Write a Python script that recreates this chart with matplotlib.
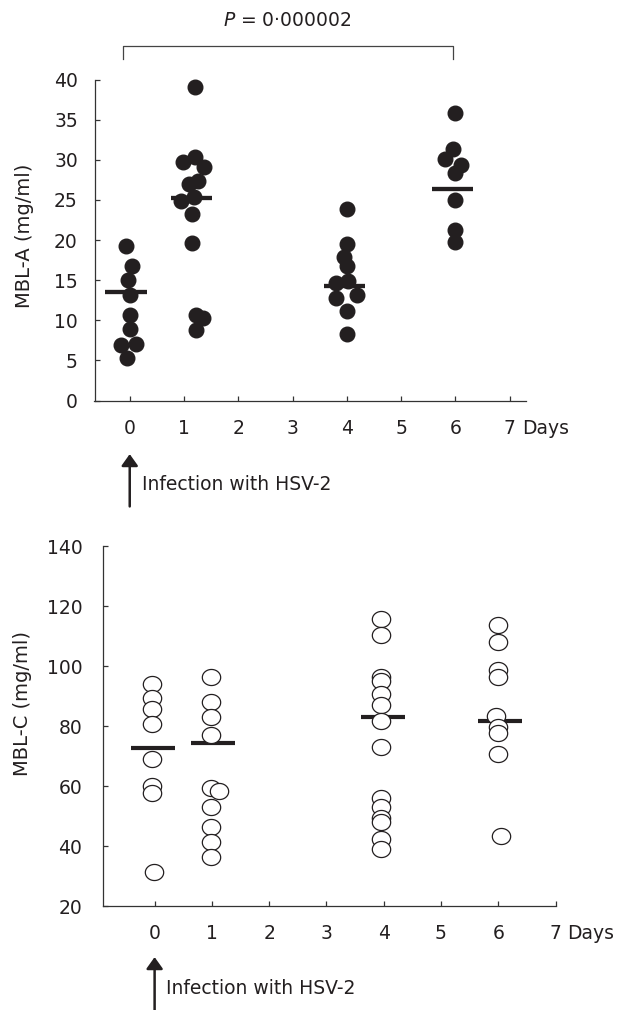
import numpy as np
import matplotlib
matplotlib.use("Agg")
import matplotlib.pyplot as plt
from matplotlib.path import Path

plt.rcParams['font.family'] = ['DejaVu Sans']
plt.rcParams['mathtext.fontset'] = 'dejavusans'

# ---------------- data ----------------
day_ticks = [0, 1, 2, 3, 4, 5, 6, 7]

# MBL-A (top panel): day position (with jitter) and value
mbla_day = [-0.07, 0.05, -0.04, 0.0, 0.0, 0.0, -0.17, 0.12, -0.05,
            1.20, 0.99, 1.20, 1.36, 1.10, 1.25, 0.94, 1.19, 1.15, 1.15, 1.22, 1.35, 1.22,
            4.0, 4.0, 3.95, 4.0, 3.80, 4.02, 4.18, 3.80, 4.0, 4.0,
            6.0, 5.96, 5.81, 6.11, 6.0, 6.0, 6.0, 6.0]
mbla_val = [19.2, 16.7, 15.0, 13.2, 10.7, 8.9, 6.9, 7.1, 5.3,
            39.1, 29.7, 30.4, 29.1, 27.0, 27.3, 24.8, 25.4, 23.3, 19.6, 10.7, 10.3, 8.8,
            23.9, 19.5, 17.9, 16.8, 14.7, 14.9, 13.1, 12.8, 11.2, 8.3,
            35.8, 31.4, 30.1, 29.4, 28.4, 25.0, 21.3, 19.8]
mbla_mean_day = [-0.07, 1.14, 3.95, 5.95]
mbla_mean_val = [13.5, 25.2, 14.3, 26.3]

# MBL-C (bottom panel)
mblc_day = [-0.05, -0.05, -0.05, -0.05, -0.05, -0.05, -0.05, -0.01,
            0.98, 0.98, 0.98, 0.98, 0.98, 1.13, 0.98, 0.98, 0.98, 0.98,
            3.96, 3.96, 3.96, 3.96, 3.96, 3.96, 3.96, 3.96, 3.96, 3.96, 3.96, 3.96, 3.96, 3.96,
            6.0, 6.0, 6.0, 6.0, 5.96, 6.0, 6.0, 6.0, 6.04]
mblc_val = [94.0, 89.4, 85.6, 80.6, 69.0, 60.0, 57.6, 31.4,
            96.2, 88.1, 83.1, 77.0, 59.2, 58.4, 53.1, 46.4, 41.4, 36.4,
            115.8, 110.3, 96.4, 95.0, 90.7, 87.0, 81.8, 72.9, 55.9, 53.1, 49.2, 48.1, 42.2, 38.9,
            113.7, 108.1, 98.7, 96.4, 83.3, 79.6, 77.6, 70.7, 43.3]
mblc_mean_day = [-0.03, 1.02, 3.99, 6.03]
mblc_mean_val = [72.8, 74.4, 83.1, 81.7]

p_text = r'$P$ = 0·000002'
bracket_days = [-0.13, 5.95]

# ---------------- layout ----------------
W, H = 626, 1010
fig = plt.figure(figsize=(W / 100, H / 100), dpi=100)
ink = '#231f20'
FS = 13.5


def px_rect(left, right, top, bottom):
    return [left / W, 1 - bottom / H, (right - left) / W, (bottom - top) / H]


def style_axes(ax, ypad):
    for s in ['top', 'right']:
        ax.spines[s].set_visible(False)
    for s in ['left', 'bottom']:
        ax.spines[s].set_linewidth(0.9)
        ax.spines[s].set_color('#333333')
    ax.tick_params(axis='both', direction='in', length=3.6, width=0.9,
                   color='#333333', labelsize=FS, labelcolor=ink)
    ax.tick_params(axis='x', pad=13)
    ax.tick_params(axis='y', pad=ypad)
    ax.set_xticks(day_ticks)
    ax.set_xticklabels([str(d) for d in day_ticks])


ax1 = fig.add_axes(px_rect(94.5, 526, 79.5, 400.5))
ax1.set_xlim(-0.649, 7.30)
ax1.set_ylim(0, 40)
style_axes(ax1, 12)
ax1.set_yticks(np.arange(0, 41, 5))

ax2 = fig.add_axes(px_rect(102.5, 555.5, 546, 906))
ax2.set_xlim(-0.91, 7.0)
ax2.set_ylim(20, 140)
style_axes(ax2, 14.5)
ax2.set_yticks(np.arange(20, 141, 20))

# top panel marks
ax1.plot(mbla_day, mbla_val, linestyle='none', marker='o', markersize=10.5,
         markerfacecolor=ink, markeredgecolor=ink, clip_on=False, zorder=3)
ax1.hlines(mbla_mean_val, [d - 0.38 for d in mbla_mean_day],
           [d + 0.38 for d in mbla_mean_day], colors=ink, linewidth=3.1, zorder=4)

# bottom panel marks (slightly wide open ellipses)
t = np.linspace(0, 2 * np.pi, 73)
ell = Path(np.column_stack([1.14 * np.cos(t), np.sin(t)]), closed=True)
ax2.hlines(mblc_mean_val, [d - 0.38 for d in mblc_mean_day],
           [d + 0.38 for d in mblc_mean_day], colors=ink, linewidth=3.0, zorder=2)
for d, v in zip(mblc_day, mblc_val):
    ax2.plot([d], [v], linestyle='none', marker=ell, markersize=13.2,
             markerfacecolor='white', markeredgecolor=ink, markeredgewidth=0.9,
             clip_on=False, zorder=3)

# y labels
fig.text(24 / W, 1 - 236 / H, 'MBL-A (mg/ml)', rotation=90, ha='center', va='center',
         fontsize=14, color=ink)
fig.text(23 / W, 1 - 703 / H, 'MBL-C (mg/ml)', rotation=90, ha='center', va='center',
         fontsize=14, color=ink)

# "Days" after the 7 tick
for ax in (ax1, ax2):
    ax.annotate('Days', xy=(7, 0), xycoords=('data', 'axes fraction'),
                xytext=(8.6, -13), textcoords='offset points', ha='left', va='top',
                fontsize=FS, color=ink, annotation_clip=False)

# infection arrows
arrow_kw = dict(arrowstyle='-|>,head_width=0.5,head_length=0.7', lw=1.8,
                color=ink, mutation_scale=10, shrinkA=0, shrinkB=0)
ax1.annotate('', xy=(0, -0.167), xytext=(0, -0.33),
             xycoords=('data', 'axes fraction'), textcoords=('data', 'axes fraction'),
             arrowprops=arrow_kw, annotation_clip=False)
ax1.text(0.232, -0.263, 'Infection with HSV-2', transform=ax1.get_xaxis_transform(),
         ha='left', va='center', fontsize=FS, color=ink)
ax2.annotate('', xy=(0, -0.142), xytext=(0, -0.30),
             xycoords=('data', 'axes fraction'), textcoords=('data', 'axes fraction'),
             arrowprops=arrow_kw, annotation_clip=False)
ax2.text(0.196, -0.228, 'Infection with HSV-2', transform=ax2.get_xaxis_transform(),
         ha='left', va='center', fontsize=FS, color=ink)

# significance bracket
ax1.plot([bracket_days[0], bracket_days[0], bracket_days[1], bracket_days[1]],
         [42.6, 44.2, 44.2, 42.6], color='#444444', linewidth=0.9, clip_on=False)
ax1.text(sum(bracket_days) / 2, 47.4, p_text, ha='center', va='center',
         fontsize=FS, color=ink, clip_on=False)

fig.savefig('out.png', dpi=100)
